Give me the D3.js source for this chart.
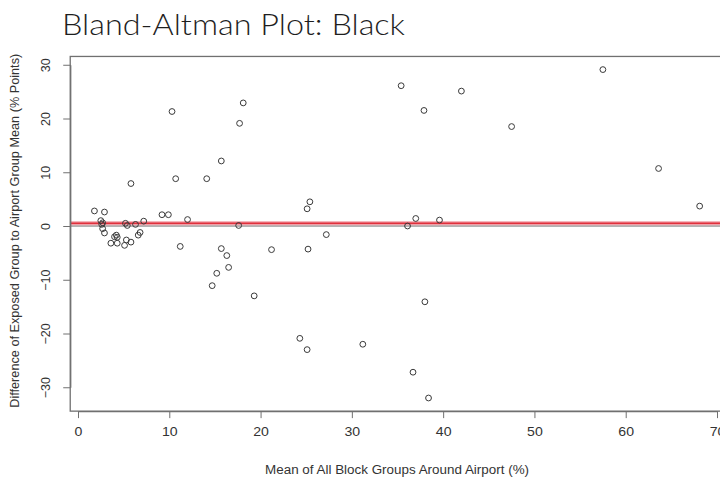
<!DOCTYPE html>
<html>
<head>
<meta charset="utf-8">
<script src="https://cdn.jsdelivr.net/npm/d3@7"></script>
<style>
  body { margin: 0; background: #fff; }
  svg { display: block; }
</style>
</head>
<body>
<div id="chart"></div>
<script>
// mean of all block groups around airport (%)
const meanPct = [1.8, 2.9, 2.5, 2.7, 2.6, 2.7, 2.9, 4.2, 4.0, 4.3, 3.6, 4.3, 5.1, 5.3, 5.8,
  5.2, 5.4, 5.8, 6.3, 6.6, 6.8, 7.2, 9.2, 9.9, 10.3, 10.7, 11.2, 12.0, 14.1, 14.7,
  15.2, 15.7, 15.7, 16.3, 16.5, 17.6, 17.7, 18.1, 19.3, 21.2, 24.3, 25.1, 25.1, 25.4,
  25.2, 27.2, 31.2, 35.4, 36.1, 36.7, 37.0, 37.9, 38.0, 38.4, 39.6, 42.0, 47.5, 57.5,
  63.6, 68.1];
// difference exposed group vs airport group mean (% points)
const diffPts = [2.8, 2.6, 1.0, 0.6, 0.3, -0.5, -1.3, -1.7, -2.0, -2.1, -3.2, -3.2, -3.6, -2.6, -3.0,
  0.5, 0.1, 7.9, 0.3, -1.7, -1.2, 0.9, 2.1, 2.1, 21.3, 8.8, -3.8, 1.2, 8.8, -11.1,
  -8.8, 12.1, -4.2, -5.5, -7.7, 0.1, 19.1, 22.9, -13.0, -4.4, -20.9, -23.0, 3.2, 4.5,
  -4.3, -1.6, -22.0, 26.1, 0.0, -27.2, 1.4, 21.5, -14.1, -32.0, 1.1, 25.1, 18.5, 29.1,
  10.7, 3.7];
const xTicks = [0, 10, 20, 30, 40, 50, 60, 70];
const yTicks = [-30, -20, -10, 0, 10, 20, 30];

const width = 720, height = 481;
const points = meanPct.map((m, i) => ({x: m, y: diffPts[i]}));
const meanDiff = d3.mean(diffPts);
const axisFont = '"Liberation Sans", Arial, sans-serif';

var svg = d3.select('#chart').append('svg')
    .attr('width', width)
    .attr('height', height);

var x = d3.scaleLinear().domain([0, 70]).range([78, 717]);
var y = d3.scaleLinear().domain([-30, 30]).range([387.25, 64.75]);

// plot region like R: data range widened by 4%
var xe = d3.extent(meanPct), ye = d3.extent(diffPts);
var xPad = (xe[1] - xe[0]) * 0.04, yPad = (ye[1] - ye[0]) * 0.04;
var plotLeft = x(xe[0] - xPad), plotRight = x(xe[1] + xPad);
var plotTop = y(ye[1] + yPad), plotBottom = y(ye[0] - yPad);

svg.append('text')
    .attr('x', 62)
    .attr('y', 35)
    .attr('font-family', 'Lato, "Open Sans", sans-serif')
    .attr('font-weight', 300)
    .attr('font-size', 29)
    .attr('fill', '#1e1e1e')
    .attr('textLength', 343)
    .attr('lengthAdjust', 'spacingAndGlyphs')
    .text('Bland-Altman Plot: Black');

// zero line and mean difference line
svg.append('line')
    .attr('x1', plotLeft).attr('x2', plotRight)
    .attr('y1', y(0)).attr('y2', y(0))
    .attr('stroke', '#9a9a9a')
    .attr('stroke-width', 1.5);

svg.append('line')
    .attr('x1', plotLeft).attr('x2', plotRight)
    .attr('y1', y(meanDiff)).attr('y2', y(meanDiff))
    .attr('stroke', '#f0a0a8')
    .attr('stroke-width', 4);
svg.append('line')
    .attr('x1', plotLeft).attr('x2', plotRight)
    .attr('y1', y(meanDiff)).attr('y2', y(meanDiff))
    .attr('stroke', '#e0303c')
    .attr('stroke-width', 1.6);

svg.append('g')
    .selectAll('circle')
    .data(points)
    .enter().append('circle')
    .attr('cx', d => x(d.x))
    .attr('cy', d => y(d.y))
    .attr('r', 2.9)
    .attr('fill', 'none')
    .attr('stroke', '#3a3a3a')
    .attr('stroke-width', 1);

// frame
svg.append('rect')
    .attr('x', plotLeft).attr('y', plotTop)
    .attr('width', plotRight - plotLeft).attr('height', plotBottom - plotTop)
    .attr('fill', 'none')
    .attr('stroke', '#707070')
    .attr('stroke-width', 1.3);

var xAxis = d3.axisBottom(x).tickValues(xTicks).tickSize(7).tickSizeOuter(0).tickPadding(9);
var gx = svg.append('g')
    .attr('transform', `translate(0,${plotBottom})`)
    .call(xAxis);
gx.select('.domain').attr('stroke', '#707070').attr('stroke-width', 1.3);
gx.selectAll('.tick line').attr('stroke', '#707070');
gx.selectAll('.tick text')
    .attr('font-family', axisFont)
    .attr('font-size', 12.5)
    .attr('fill', '#333')
    .attr('transform', 'scale(1.13,1)');

var yAxis = d3.axisLeft(y).tickValues(yTicks).tickSize(7).tickSizeOuter(0);
var gy = svg.append('g')
    .attr('transform', `translate(${plotLeft},0)`)
    .call(yAxis);
gy.select('.domain').attr('stroke', '#707070').attr('stroke-width', 1.3);
gy.selectAll('.tick line').attr('stroke', '#707070');
gy.selectAll('.tick text')
    .attr('font-family', axisFont)
    .attr('font-size', 12.5)
    .attr('fill', '#333')
    .attr('text-anchor', 'middle')
    .attr('x', 0).attr('dy', 0)
    .attr('transform', 'translate(-24,0) rotate(-90)')
    .attr('dominant-baseline', 'central');

svg.append('text')
    .attr('x', (plotLeft + plotRight) / 2)
    .attr('y', 474)
    .attr('text-anchor', 'middle')
    .attr('font-family', axisFont)
    .attr('font-size', 12.5)
    .attr('fill', '#333')
    .attr('textLength', 264)
    .attr('lengthAdjust', 'spacingAndGlyphs')
    .text('Mean of All Block Groups Around Airport (%)');

svg.append('text')
    .attr('transform', `translate(19,${(plotTop + plotBottom) / 2 - 3}) rotate(-90)`)
    .attr('text-anchor', 'middle')
    .attr('font-family', axisFont)
    .attr('font-size', 12.5)
    .attr('fill', '#333')
    .attr('textLength', 354)
    .attr('lengthAdjust', 'spacingAndGlyphs')
    .text('Difference of Exposed Group to Airport Group Mean (% Points)');
</script>
</body>
</html>
